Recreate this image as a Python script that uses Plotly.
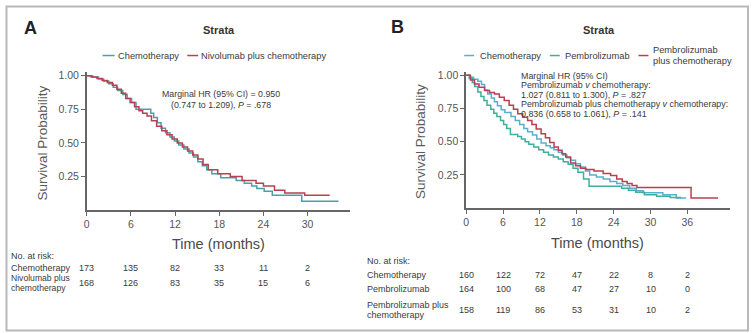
import plotly.graph_objects as go

W, H = 753, 333
FONT = "Liberation Sans, Arial, sans-serif"

# ---- Panel A: Kaplan-Meier steps ----
a_chemo_t = [0, 0.8, 1.6, 2.3, 3.0, 3.6, 4.2, 4.9, 5.5, 6.1, 6.7, 8.7, 9.1, 9.6, 10.1, 10.7, 11.3,
             11.9, 12.5, 13.2, 13.9, 14.5, 15.1, 15.7, 16.3, 17.0, 18.2, 20.3, 21.4, 22.4, 23.1,
             24.1, 25.2, 29.2, 34.2]
a_chemo_s = [1.0, 0.99, 0.975, 0.96, 0.94, 0.915, 0.89, 0.86, 0.83, 0.80, 0.75, 0.72, 0.69, 0.65,
             0.61, 0.575, 0.545, 0.515, 0.485, 0.455, 0.425, 0.395, 0.36, 0.33, 0.30, 0.27, 0.24,
             0.22, 0.20, 0.18, 0.16, 0.14, 0.11, 0.066, 0.066]
a_nivo_t = [0, 0.6, 1.4, 2.1, 2.8, 3.5, 4.1, 4.7, 5.3, 5.9, 6.5, 7.1, 7.6, 8.2, 8.8, 9.5, 10.2, 10.9,
            11.6, 12.3, 13.0, 13.7, 14.4, 15.1, 15.8, 16.5, 17.8, 19.5, 21.1, 23.0, 24.0, 25.5,
            26.9, 29.6, 33.0]
a_nivo_s = [1.0, 0.99, 0.98, 0.965, 0.95, 0.93, 0.90, 0.87, 0.83, 0.80, 0.77, 0.74, 0.72, 0.70,
            0.665, 0.625, 0.59, 0.56, 0.53, 0.50, 0.47, 0.44, 0.41, 0.38, 0.34, 0.30, 0.27, 0.25,
            0.22, 0.20, 0.18, 0.147, 0.127, 0.11, 0.11]

# ---- Panel B: Kaplan-Meier steps ----
b_chemo_t = [0, 0.6, 1.2, 1.9, 2.5, 3.0, 3.5, 4.1, 4.6, 5.1, 5.7, 6.3, 7.3, 8.0, 8.7, 9.4, 10.0,
             10.8, 11.5, 12.2, 13.0, 13.7, 14.3, 15.0, 15.7, 16.4, 17.0, 17.8, 18.6, 19.4, 20.1,
             21.2, 22.3, 23.4, 24.5, 25.5, 26.6, 27.7, 28.8, 32.0, 34.2, 35.8]
b_chemo_s = [1.0, 0.985, 0.97, 0.955, 0.93, 0.89, 0.86, 0.83, 0.80, 0.77, 0.74, 0.72, 0.69, 0.66,
             0.63, 0.60, 0.575, 0.55, 0.52, 0.49, 0.47, 0.455, 0.44, 0.42, 0.40, 0.38, 0.36, 0.335,
             0.31, 0.28, 0.25, 0.235, 0.22, 0.20, 0.185, 0.17, 0.15, 0.13, 0.115, 0.10, 0.077, 0.077]
b_pembro_t = [0, 0.5, 1.0, 1.4, 1.9, 2.4, 2.9, 3.4, 4.0, 4.5, 5.0, 5.6, 6.1, 6.6, 7.2, 8.4, 9.0,
              9.6, 10.2, 11.0, 11.8, 12.6, 13.4, 14.2, 15.0, 15.8, 16.6, 17.4, 18.2, 19.1, 20.0,
              25.3, 26.4, 27.6, 29.0, 31.0, 33.2, 35.0]
b_pembro_s = [1.0, 0.975, 0.945, 0.915, 0.875, 0.84, 0.81, 0.775, 0.745, 0.715, 0.69, 0.66, 0.63,
              0.60, 0.555, 0.54, 0.52, 0.50, 0.48, 0.46, 0.44, 0.42, 0.40, 0.385, 0.37, 0.35, 0.33,
              0.30, 0.27, 0.22, 0.165, 0.15, 0.135, 0.12, 0.10, 0.09, 0.08, 0.08]
b_combo_t = [0, 0.7, 1.35, 2.1, 3.0, 3.8, 4.6, 5.4, 6.2, 7.0, 7.7, 8.4, 9.2, 10.0, 10.7, 11.4, 12.2,
             12.9, 13.6, 14.3, 15.0, 15.6, 16.2, 17.0, 17.8, 18.6, 19.5, 20.8, 22.3, 23.5, 24.5,
             25.4, 26.2, 27.0, 27.8, 36.6, 41.0]
b_combo_s = [1.0, 0.965, 0.935, 0.91, 0.885, 0.87, 0.86, 0.835, 0.81, 0.775, 0.745, 0.71, 0.685,
             0.66, 0.63, 0.595, 0.56, 0.53, 0.495, 0.46, 0.435, 0.41, 0.385, 0.34, 0.32, 0.30, 0.29,
             0.28, 0.26, 0.245, 0.22, 0.20, 0.185, 0.17, 0.155, 0.077, 0.077]

# ---- axis ticks ----
y_ticks = [0.25, 0.50, 0.75, 1.00]
y_tick_text = ["0.25", "0.50", "0.75", "1.00"]
a_x_ticks = [0, 6, 12, 18, 24, 30]
b_x_ticks = [0, 6, 12, 18, 24, 30, 36]

# ---- numbers at risk ----
a_risk_labels = [["Chemotherapy"], ["Nivolumab plus", "chemotherapy"]]
a_risk = [[173, 135, 82, 33, 11, 2],
          [168, 126, 83, 35, 15, 6]]
b_risk_labels = [["Chemotherapy"], ["Pembrolizumab"], ["Pembrolizumab plus", "chemotherapy"]]
b_risk = [[160, 122, 72, 47, 22, 8, 2],
          [164, 100, 68, 47, 27, 10, 0],
          [158, 119, 86, 53, 31, 10, 2]]

TEAL_A = "#4a9fa8"
RED = "#b8404f"
BLUE_B = "#5aaed0"
GREEN_B = "#3fae9c"
AXIS = "#666666"
TXT = "#3a3a3a"


def px(x):
    return x / W


def py(y):
    return 1 - y / H


fig = go.Figure()

fig.add_trace(go.Scatter(x=a_chemo_t, y=a_chemo_s, mode="lines", line=dict(color=TEAL_A, width=1.5, shape="hv"),
                         xaxis="x", yaxis="y", showlegend=False))
fig.add_trace(go.Scatter(x=a_nivo_t, y=a_nivo_s, mode="lines", line=dict(color=RED, width=1.5, shape="hv"),
                         xaxis="x", yaxis="y", showlegend=False))
fig.add_trace(go.Scatter(x=b_chemo_t, y=b_chemo_s, mode="lines", line=dict(color=BLUE_B, width=1.5, shape="hv"),
                         xaxis="x2", yaxis="y2", showlegend=False))
fig.add_trace(go.Scatter(x=b_pembro_t, y=b_pembro_s, mode="lines", line=dict(color=GREEN_B, width=1.5, shape="hv"),
                         xaxis="x2", yaxis="y2", showlegend=False))
fig.add_trace(go.Scatter(x=b_combo_t, y=b_combo_s, mode="lines", line=dict(color=RED, width=1.5, shape="hv"),
                         xaxis="x2", yaxis="y2", showlegend=False))

axis_common = dict(showline=True, linecolor=AXIS, linewidth=1.5, ticks="outside", ticklen=4,
                   tickcolor=AXIS, tickwidth=1.2, showgrid=False, zeroline=False,
                   tickfont=dict(family=FONT, size=10.5, color="#555555"), fixedrange=True)

fig.update_layout(
    width=W, height=H, autosize=False,
    margin=dict(l=0, r=0, t=0, b=0),
    paper_bgcolor="white", plot_bgcolor="white",
    xaxis=dict(domain=[px(84), px(348)], range=[0, 35.7], tickvals=a_x_ticks, anchor="y", **axis_common),
    yaxis=dict(domain=[py(209), py(70)], range=[0, 1.025], tickvals=y_ticks, ticktext=y_tick_text,
               anchor="x", **axis_common),
    xaxis2=dict(domain=[px(465), px(730)], range=[0, 42.95], tickvals=b_x_ticks, anchor="y2", **axis_common),
    yaxis2=dict(domain=[py(207), py(70)], range=[0, 1.022], tickvals=y_ticks, ticktext=y_tick_text,
                anchor="x2", **axis_common),
)

ann = []
shapes = []


def text(x, y, s, size=9, color=TXT, xanchor="left", yanchor="middle", xref="paper", angle=0):
    ann.append(dict(x=x if xref != "paper" else px(x), y=py(y), xref=xref, yref="paper", text=s,
                    showarrow=False, xanchor=xanchor, yanchor=yanchor, textangle=angle, borderpad=0,
                    font=dict(family=FONT, size=size, color=color)))


# outer frame
shapes.append(dict(type="rect", xref="paper", yref="paper", x0=px(3.5), x1=px(748), y0=py(330.5), y1=py(3.5),
                   line=dict(color="#b8b8b8", width=2)))

# panel letters and strata headings
text(27.5, 25, "<b>A</b>", size=18, color="#222222", xanchor="center")
text(396, 24, "<b>B</b>", size=18, color="#222222", xanchor="center")
text(217, 27, "<b>Strata</b>", size=11, color="#333333", xanchor="center")
text(598, 27, "<b>Strata</b>", size=11, color="#333333", xanchor="center")

# legend A
for x0, x1, col in [(100, 112, TEAL_A), (185, 196, RED)]:
    shapes.append(dict(type="line", xref="paper", yref="paper", x0=px(x0), x1=px(x1), y0=py(53), y1=py(53),
                       line=dict(color=col, width=1.5)))
text(114, 53, "Chemotherapy", size=9.3)
text(198, 53, "Nivolumab plus chemotherapy", size=9.3)

# legend B
for x0, x1, col in [(463, 473, BLUE_B), (549, 559, GREEN_B), (638, 648, RED)]:
    shapes.append(dict(type="line", xref="paper", yref="paper", x0=px(x0), x1=px(x1), y0=py(53), y1=py(53),
                       line=dict(color=col, width=1.5)))
text(478, 53, "Chemotherapy", size=9.3)
text(563, 53, "Pembrolizumab", size=9.3)
text(652, 47.5, "Pembrolizumab", size=9.3)
text(652, 58.5, "plus chemotherapy", size=9.3)

# axis titles
text(40, 141, "Survival Probability", size=13.5, color="#5a5a5a", xanchor="center", angle=-90)
text(419, 140, "Survival Probability", size=13.5, color="#5a5a5a", xanchor="center", angle=-90)
text(216, 243, "Time (months)", size=14.5, color="#4a4a4a", xanchor="center")
text(597, 242, "Time (months)", size=14.5, color="#4a4a4a", xanchor="center")

# hazard ratio notes
text(219, 92.3, "Marginal HR (95% CI) = 0.950", size=8.8, xanchor="center")
text(219, 103, "(0.747 to 1.209), <i>P</i> = .678", size=8.8, xanchor="center")
hr_b = ["Marginal HR (95% CI)", "Pembrolizumab <i>v</i> chemotherapy:",
        "1.027 (0.811 to 1.300), <i>P</i> = .827",
        "Pembrolizumab plus chemotherapy <i>v</i> chemotherapy:",
        "0.836 (0.658 to 1.061), <i>P</i> = .141"]
for i, line in enumerate(hr_b):
    text(519, 73.5 + i * 9.6, line, size=8.9)

# numbers at risk, A
text(7, 255, "No. at risk:", size=9)
a_rows_y = [267.5, 282.5]
for lab, row, yy in zip(a_risk_labels, a_risk, a_rows_y):
    if len(lab) == 1:
        text(7, yy, lab[0], size=9)
    else:
        text(7, yy - 4.8, lab[0], size=8.6)
        text(7, yy + 5.2, lab[1], size=8.6)
    for t, n in zip(a_x_ticks, row):
        text(t, yy, str(n), size=9, xanchor="center", xref="x")

# numbers at risk, B
text(364, 260, "No. at risk:", size=9)
b_rows_y = [274, 288.5, 309.5]
for lab, row, yy in zip(b_risk_labels, b_risk, b_rows_y):
    if len(lab) == 1:
        text(364, yy, lab[0], size=9)
    else:
        text(364, yy - 4.8, lab[0], size=9)
        text(364, yy + 5.2, lab[1], size=9)
    for t, n in zip(b_x_ticks, row):
        text(t, yy, str(n), size=9, xanchor="center", xref="x2")

fig.update_layout(annotations=ann, shapes=shapes)
fig.write_html("out.html")
